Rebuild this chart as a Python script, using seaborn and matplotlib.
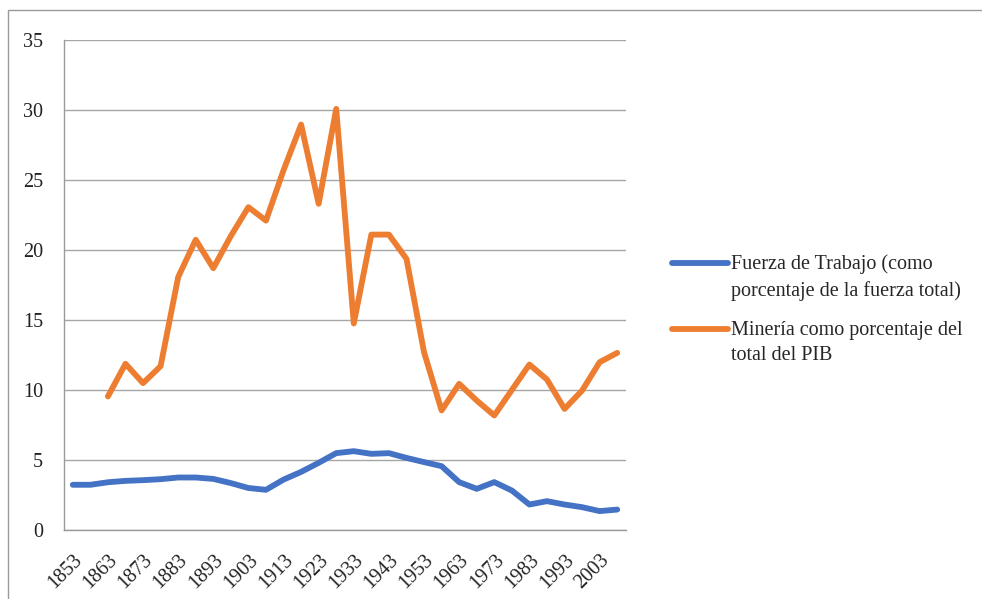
import numpy as np
import pandas as pd
import matplotlib
matplotlib.use("Agg")
import matplotlib.pyplot as plt
import seaborn as sns
from matplotlib.patches import Rectangle
from matplotlib.legend_handler import HandlerLine2D

years = list(range(1853, 2009, 5))
fuerza = [3.23, 3.23, 3.41, 3.51, 3.56, 3.63, 3.75, 3.75, 3.65, 3.35, 3.0, 2.87,
          3.6, 4.15, 4.8, 5.49, 5.63, 5.44, 5.49, 5.15, 4.85, 4.56, 3.42, 2.94,
          3.42, 2.82, 1.82, 2.06, 1.82, 1.63, 1.35, 1.46]
mineria = [np.nan, np.nan, 9.54, 11.87, 10.49, 11.7, 18.06, 20.73, 18.7, 21.0, 23.06, 22.1,
           25.7, 28.96, 23.3, 30.08, 14.75, 21.1, 21.1, 19.37, 12.7, 8.54, 10.44, 9.25,
           8.18, 10.0, 11.82, 10.75, 8.65, 9.96, 11.99, 12.65]
label_fuerza = "Fuerza de Trabajo (como\nporcentaje de la fuerza total)"
label_mineria = "Minería como porcentaje del\ntotal del PIB"
tick_years = list(range(1853, 2004, 10))

df = pd.DataFrame({"Año": years * 2,
                   "Valor": fuerza + mineria,
                   "Serie": [label_fuerza] * len(years) + [label_mineria] * len(years)})
df = df.dropna()

sns.set_style("white")
plt.rcParams["font.family"] = ["Liberation Serif", "DejaVu Serif"]

FS = 14.5
LW = 4.2
LSP = 1.45


class TopLineHandler(HandlerLine2D):
    def create_artists(self, legend, orig_handle, xdescent, ydescent, width, height,
                       fontsize, trans):
        arts = super().create_artists(legend, orig_handle, xdescent, ydescent, width,
                                      height, fontsize, trans)
        off = fontsize * LSP / 2.0
        for a in arts:
            a.set_ydata(np.asarray(a.get_ydata()) + off)
        return arts


fig = plt.figure(figsize=(9.82, 5.99), dpi=100)
ax = fig.add_axes([64 / 982, 1 - 530 / 599, (626 - 64) / 982, (530 - 40) / 599])

fig.patches.append(Rectangle((8 / 982, -0.1), 1.2, 1 - 10 / 599 + 0.1,
                             transform=fig.transFigure, fill=False,
                             edgecolor="#9a9a9a", linewidth=1.0))

sns.lineplot(data=df, x="Año", y="Valor", hue="Serie",
             palette={label_fuerza: "#4472C4", label_mineria: "#ED7D31"},
             linewidth=LW, ax=ax, legend=True, sort=False)
for ln in ax.lines:
    ln.set_solid_capstyle("round")
    ln.set_solid_joinstyle("round")

ax.set_xlim(1850.5, 2010.5)
ax.set_ylim(0, 35)
ax.set_yticks(range(0, 36, 5))
ax.set_xticks(tick_years)
ax.set_xticklabels([str(y) for y in tick_years], rotation=45, ha="right",
                   rotation_mode="anchor")
ax.set_xticks(np.arange(1850.5, 2011, 5), minor=True)
ax.tick_params(axis="x", which="major", length=0, pad=15, labelsize=FS, labelcolor="#222222")
ax.tick_params(axis="x", which="minor", length=6, color="#9a9a9a", width=1)
ax.tick_params(axis="y", which="major", length=6, color="#9a9a9a", width=1,
               labelsize=FS, labelcolor="#222222", pad=9)
ax.grid(axis="y", color="#a6a6a6", linewidth=1)
ax.grid(axis="x", visible=False)
ax.set_axisbelow(True)
for s in ["top", "right"]:
    ax.spines[s].set_visible(False)
for s in ["left", "bottom"]:
    ax.spines[s].set_color("#9a9a9a")
    ax.spines[s].set_linewidth(1)
ax.set_xlabel("")
ax.set_ylabel("")

ax.get_legend().remove()
handles, labels = ax.get_legend_handles_labels()
for h in handles:
    h.set_linewidth(LW)
    h.set_solid_capstyle("round")
leg = fig.legend(handles, labels, loc="center left", bbox_to_anchor=(672 / 982, 1 - 310 / 599),
                 frameon=False, fontsize=FS, handlelength=2.8, handletextpad=0.15,
                 labelspacing=1.0, borderpad=0, borderaxespad=0,
                 handler_map={type(handles[0]): TopLineHandler()})
for t in leg.get_texts():
    t.set_linespacing(LSP)

fig.savefig("out.png", dpi=100)
